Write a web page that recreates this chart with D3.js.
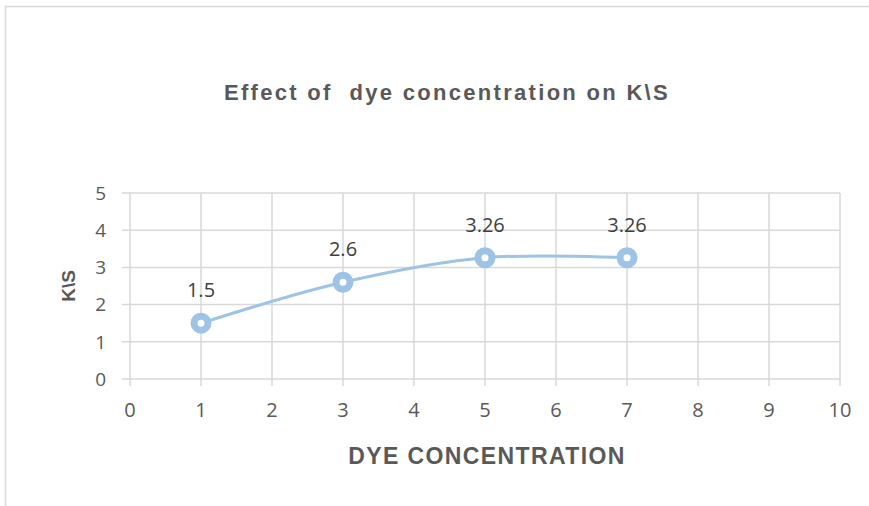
<!DOCTYPE html>
<html>
<head>
<meta charset="utf-8">
<script src="https://cdn.jsdelivr.net/npm/d3@7"></script>
<style>
  body { margin: 0; background: #fff; }
  svg text { fill: #595959; }
</style>
</head>
<body>
<svg id="chart" width="869" height="506"></svg>
<script>
// data
const dyeConc = [1, 3, 5, 7];
const ksValues = [1.5, 2.6, 3.26, 3.26];
const xTicks = [0, 1, 2, 3, 4, 5, 6, 7, 8, 9, 10];
const yTicks = [0, 1, 2, 3, 4, 5];

const svg = d3.select('#chart');

// outer chart frame (runs off the right and bottom edge)
svg.append('rect')
    .attr('x', 5.5).attr('y', 6.5)
    .attr('width', 900).attr('height', 560)
    .attr('fill', 'none')
    .attr('stroke', '#d9d9d9')
    .attr('stroke-width', 1.5);

let x = d3.scaleLinear().domain([0, 10]).range([130, 840]);
let y = d3.scaleLinear().domain([0, 5]).range([379, 193]);

// grid lines
let grid = svg.append('g').attr('stroke', '#d9d9d9').attr('stroke-width', 1.5);
grid.selectAll('line.h')
    .data(yTicks)
    .enter()
    .append('line')
    .attr('class', 'h')
    .attr('x1', 122).attr('x2', x(10))
    .attr('y1', d => y(d)).attr('y2', d => y(d));
grid.selectAll('line.v')
    .data(xTicks)
    .enter()
    .append('line')
    .attr('class', 'v')
    .attr('x1', d => x(d)).attr('x2', d => x(d))
    .attr('y1', y(5)).attr('y2', y(0) + 7);

// tick labels
svg.selectAll('text.yt')
    .data(yTicks)
    .enter()
    .append('text')
    .attr('class', 'yt')
    .attr('x', 106)
    .attr('y', d => y(d))
    .attr('dy', '0.36em')
    .attr('text-anchor', 'end')
    .style('font', '19px "Open Sans", sans-serif')
    .text(d => d);

svg.selectAll('text.xt')
    .data(xTicks)
    .enter()
    .append('text')
    .attr('class', 'xt')
    .attr('x', d => x(d))
    .attr('y', 417)
    .attr('text-anchor', 'middle')
    .style('font', '20px "Open Sans", sans-serif')
    .text(d => d);

// titles
svg.append('text')
    .attr('x', 447).attr('y', 100)
    .attr('text-anchor', 'middle')
    .attr('xml:space', 'preserve')
    .style('white-space', 'pre')
    .style('font', 'bold 22px "Liberation Sans", Arial, sans-serif')
    .style('letter-spacing', '2.3px')
    .text('Effect of  dye concentration on K\\S');

svg.append('text')
    .attr('x', 487).attr('y', 464)
    .attr('text-anchor', 'middle')
    .style('font', 'bold 23px "Liberation Sans", Arial, sans-serif')
    .style('letter-spacing', '1.4px')
    .text('DYE CONCENTRATION');

svg.append('text')
    .attr('transform', 'translate(75, 286) rotate(-90)')
    .attr('text-anchor', 'middle')
    .style('font', 'bold 19px "Liberation Sans", Arial, sans-serif')
    .text('K\\S');

// smoothed series line
let pts = dyeConc.map((d, i) => [d, ksValues[i]]);
let line = d3.line()
    .x(d => x(d[0]))
    .y(d => y(d[1]))
    .curve(d3.curveCatmullRom.alpha(0.5));

svg.append('path')
    .attr('d', line(pts))
    .attr('fill', 'none')
    .attr('stroke', '#9dc3e6')
    .attr('stroke-width', 3);

// markers
svg.selectAll('circle')
    .data(pts)
    .enter()
    .append('circle')
    .attr('cx', d => x(d[0]))
    .attr('cy', d => y(d[1]))
    .attr('r', 7)
    .attr('fill', '#fff')
    .attr('stroke', '#9dc3e6')
    .attr('stroke-width', 7);

// data labels
svg.selectAll('text.lbl')
    .data(pts)
    .enter()
    .append('text')
    .attr('class', 'lbl')
    .attr('x', d => x(d[0]))
    .attr('y', d => y(d[1]) - 26)
    .attr('text-anchor', 'middle')
    .style('font', '20px "Open Sans", sans-serif')
    .style('fill', '#404040')
    .text(d => d[1]);
</script>
</body>
</html>
